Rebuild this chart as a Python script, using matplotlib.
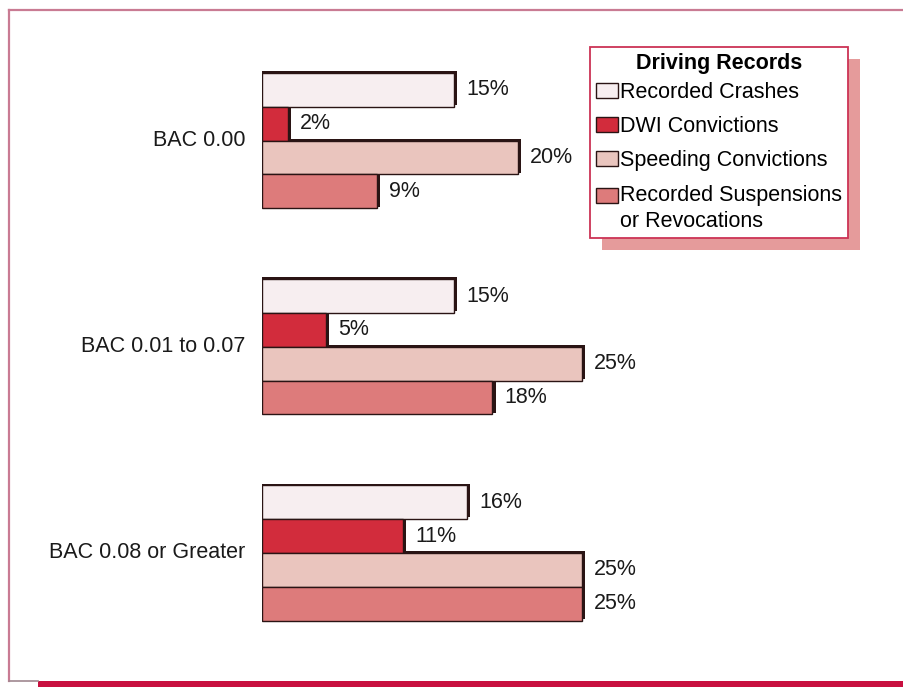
import matplotlib
matplotlib.use("Agg")
import matplotlib.pyplot as plt
from matplotlib.patches import Rectangle
from matplotlib.lines import Line2D

plt.rcParams['font.family'] = ['Liberation Sans', 'DejaVu Sans']

categories = ["BAC 0.00", "BAC 0.01 to 0.07", "BAC 0.08 or Greater"]
series = ["Recorded Crashes", "DWI Convictions", "Speeding Convictions",
          "Recorded Suspensions\nor Revocations"]
crashes = [15, 15, 16]
dwi = [2, 5, 11]
speeding = [20, 25, 25]
suspensions = [9, 18, 25]
values = [crashes, dwi, speeding, suspensions]
colors = ["#f7eef0", "#d22c3c", "#eac5be", "#dd7b7b"]
edge = "#2a1414"
FS = 15.5

W, H = 904, 687
fig = plt.figure(figsize=(W / 100, H / 100), dpi=100)
fig.patch.set_facecolor("white")

ax_left, ax_right, ax_top, ax_bot = 262, 774, 60, 640
ax = fig.add_axes([ax_left / W, 1 - ax_bot / H, (ax_right - ax_left) / W, (ax_bot - ax_top) / H])
ax.set_axis_off()
unit = 33.8
span = (ax_bot - ax_top) / unit
y0 = -(73 - ax_top) / unit
ax.set_xlim(0, (ax_right - ax_left) / 12.8)
ax.set_ylim(y0 + span, y0)

gap = 6.1
bars = []
for s, vals in enumerate(values):
    ys = [g * gap + s + 0.5 for g in range(len(categories))]
    ax.barh([y - 0.05 for y in ys], [v + 0.25 for v in vals], height=1.0,
            color=edge, edgecolor="none", linewidth=0, zorder=1)
for s, vals in enumerate(values):
    ys = [g * gap + s + 0.5 for g in range(len(categories))]
    b = ax.barh(ys, vals, height=1.0, color=colors[s], edgecolor=edge,
                linewidth=1.0, zorder=2, label=series[s])
    bars.append(b)
    for y, v in zip(ys, vals):
        ax.text(v + 0.95, y, f"{v}%", va="center", ha="left", fontsize=FS,
                color="#1a1a1a", zorder=3)

for g, cat in enumerate(categories):
    ax.text(-1.3, g * gap + 2.0, cat, ha="right", va="center", fontsize=FS,
            color="#1a1a1a", clip_on=False)

leg = fig.legend(handles=bars, labels=series, title="Driving Records",
                 loc="upper left", bbox_to_anchor=(590 / W, 1 - 47 / H),
                 fontsize=FS, title_fontproperties={"weight": "bold", "size": FS},
                 frameon=True, fancybox=False, edgecolor="#cc3355",
                 handlelength=1.0, handleheight=0.7, handletextpad=0.1,
                 labelspacing=0.62, borderpad=0.28, borderaxespad=0,
                 framealpha=1)
leg.get_frame().set_linewidth(1.3)
leg.set_zorder(5)
leg._legend_box.sep = 5.5
for t in leg.get_texts():
    t.set_linespacing(1.3)
# align the multi-line entry's swatch with its first line
last = leg.legend_handles[3]
last.set_y(last.get_y() + 9.5)

fig.canvas.draw()
bb = leg.get_window_extent()
shadow = Rectangle((bb.x0 + 12, bb.y0 - 12), bb.width, bb.height,
                   transform=None, facecolor="#e59b9b", edgecolor="none", zorder=4)
fig.patches.append(shadow)

# outer frame
fig.add_artist(Line2D([9 / W, 1], [1 - 10 / H, 1 - 10 / H], color="#c97b93", lw=1.6))
fig.add_artist(Line2D([9 / W, 9 / W], [1 - 10 / H, 1 - 681 / H], color="#c97b93", lw=1.6))
fig.add_artist(Line2D([9 / W, 38 / W], [1 - 681 / H, 1 - 681 / H], color="#a08890", lw=1.2))
fig.add_artist(Rectangle((38 / W, 0), 1 - 38 / W, 6 / H, transform=fig.transFigure,
                         facecolor="#c8103f", edgecolor="none"))

fig.savefig("out.png", dpi=100, facecolor="white")
